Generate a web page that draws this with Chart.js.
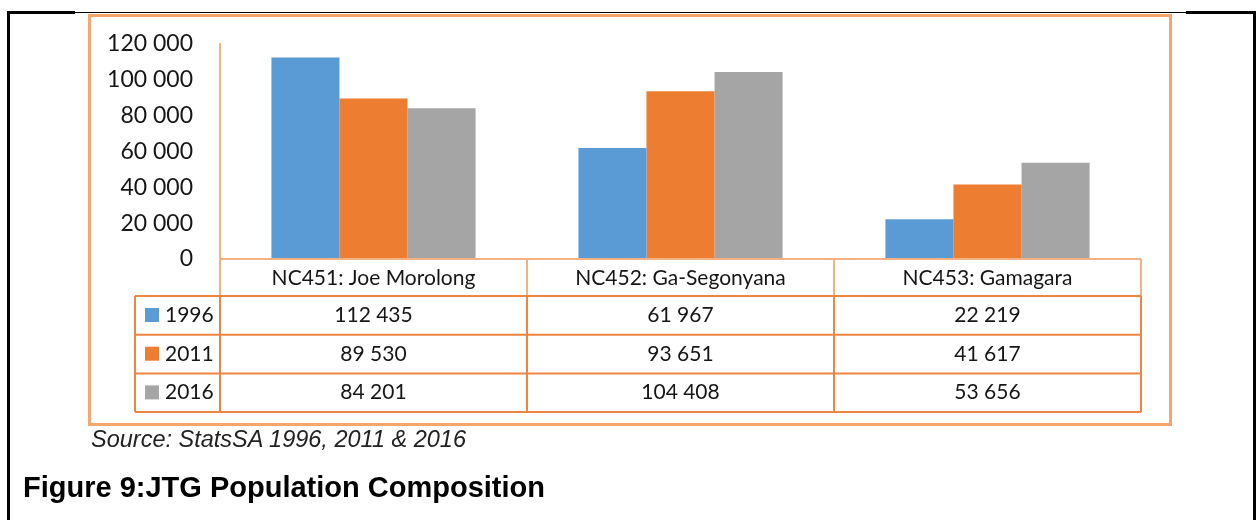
<!DOCTYPE html>
<html>
<head>
<meta charset="utf-8">
<title>JTG Population Composition</title>
<script src="https://cdn.jsdelivr.net/npm/chart.js@4"></script>
<style>
  html, body { margin: 0; padding: 0; background: #fff; overflow: hidden; }
  #page { position: relative; width: 1257px; height: 520px; }
  #wrap { position: absolute; left: 0; top: 0; width: 1257px; height: 520px; }
  .rule { position: absolute; background: #000; }
  #frame { position: absolute; left: 88px; top: 14px; width: 1078px; height: 406px;
           border: 3px solid #f5a56d; }
  #source { position: absolute; left: 91px; top: 428px; font: italic 23.5px "Liberation Sans", Arial, sans-serif;
            line-height: 23px; color: #222; white-space: nowrap; }
  #caption { position: absolute; left: 23px; top: 473px; font: bold 29px "Liberation Sans", Arial, sans-serif;
             line-height: 29px; color: #000; white-space: nowrap; }
</style>
</head>
<body>
<div id="page">
  <!-- page borders of the surrounding document -->
  <div class="rule" style="left:7px; top:11px; width:3px; height:509px;"></div>
  <div class="rule" style="left:1253px; top:11px; width:3px; height:509px;"></div>
  <div class="rule" style="left:7px; top:11px; width:68px; height:3px;"></div>
  <div class="rule" style="left:1186px; top:11px; width:70px; height:3px;"></div>
  <div class="rule" style="left:75px; top:12px; width:1111px; height:1px;"></div>
  <div id="frame"></div>
  <div id="wrap"><canvas id="popChart"></canvas></div>
  <div id="source">Source: StatsSA 1996, 2011 &amp; 2016</div>
  <div id="caption">Figure 9:JTG Population Composition</div>
</div>
<script>
// --- data ---
const categories = ['NC451: Joe Morolong', 'NC452: Ga-Segonyana', 'NC453: Gamagara'];
const years = ['1996', '2011', '2016'];
const pop1996 = [112435, 61967, 22219];
const pop2011 = [89530, 93651, 41617];
const pop2016 = [84201, 104408, 53656];
const yMin = 0;
const yMax = 120000;
const yStep = 20000;

const seriesColors = ['#5b9bd5', '#ed7d31', '#a5a5a5'];
const textColor = '#161616';

// thousands separated by a space, as in the source
function fmt(v) {
    return String(v).replace(/\B(?=(\d{3})+(?!\d))/g, ' ');
}

// --- data table drawn under the plot, aligned to the category scale ---
const dataTable = {
    id: 'dataTable',
    afterDraw(chart) {
        const ctx = chart.ctx;
        const area = chart.chartArea;
        const xs = chart.scales.x;
        const n = categories.length;
        const colW = (area.right - area.left) / n;
        const top = area.bottom;
        const headH = 37;
        const rowH = 38.7;
        const legendLeft = area.left - 85;
        const bodyTop = top + headH;
        const bodyBottom = bodyTop + rowH * years.length;
        const rows = [pop1996, pop2011, pop2016];

        ctx.save();
        ctx.lineWidth = 2;

        // header row lines (lighter)
        ctx.strokeStyle = '#f4b183';
        ctx.beginPath();
        ctx.moveTo(area.left, top);
        ctx.lineTo(area.right, top);
        for (let i = 0; i <= n; i++) {
            const x = area.left + colW * i;
            ctx.moveTo(x, top);
            ctx.lineTo(x, bodyTop);
        }
        ctx.stroke();

        // body lines
        ctx.strokeStyle = '#ee8540';
        ctx.beginPath();
        for (let r = 0; r <= years.length; r++) {
            const y = bodyTop + rowH * r;
            ctx.moveTo(legendLeft, y);
            ctx.lineTo(area.right, y);
        }
        ctx.moveTo(legendLeft, bodyTop);
        ctx.lineTo(legendLeft, bodyBottom);
        for (let i = 0; i <= n; i++) {
            const x = area.left + colW * i;
            ctx.moveTo(x, bodyTop);
            ctx.lineTo(x, bodyBottom);
        }
        ctx.stroke();

        // texts
        ctx.fillStyle = textColor;
        ctx.font = '21px Lato';
        ctx.textBaseline = 'alphabetic';
        ctx.textAlign = 'center';
        categories.forEach((c, i) => {
            ctx.fillText(c, xs.getPixelForValue(i), top + 26);
        });
        rows.forEach((vals, r) => {
            const base = bodyTop + rowH * r + 26;
            vals.forEach((v, i) => {
                ctx.fillText(fmt(v), xs.getPixelForValue(i), base);
            });
        });

        // legend keys
        ctx.textAlign = 'left';
        years.forEach((yr, r) => {
            const base = bodyTop + rowH * r + 26;
            ctx.fillStyle = seriesColors[r];
            ctx.fillRect(legendLeft + 10, base - 14, 14, 14);
            ctx.fillStyle = textColor;
            ctx.fillText(yr, legendLeft + 30, base);
        });
        ctx.restore();
    }
};

function init() {
    const ctx = document.getElementById('popChart').getContext('2d');
    new Chart(ctx, {
        type: 'bar',
        data: {
            labels: categories,
            datasets: [
                { label: years[0], data: pop1996, backgroundColor: seriesColors[0] },
                { label: years[1], data: pop2011, backgroundColor: seriesColors[1] },
                { label: years[2], data: pop2016, backgroundColor: seriesColors[2] }
            ]
        },
        options: {
            responsive: true,
            maintainAspectRatio: false,
            animation: false,
            layout: { padding: { top: 44, left: 0, right: 116, bottom: 261 } },
            datasets: { bar: { categoryPercentage: 0.665, barPercentage: 1.0 } },
            scales: {
                x: { display: false },
                y: {
                    min: yMin,
                    max: yMax,
                    afterFit(scale) { scale.width = 220; },
                    ticks: {
                        stepSize: yStep,
                        padding: 27,
                        color: textColor,
                        font: { family: 'Lato', size: 23 },
                        callback: v => fmt(v)
                    },
                    grid: { display: false, drawTicks: false },
                    border: { display: true, color: '#f4b183', width: 2 }
                }
            },
            plugins: {
                legend: { display: false },
                tooltip: { enabled: false }
            }
        },
        plugins: [dataTable]
    });
}

window.onload = init;
</script>
</body>
</html>
